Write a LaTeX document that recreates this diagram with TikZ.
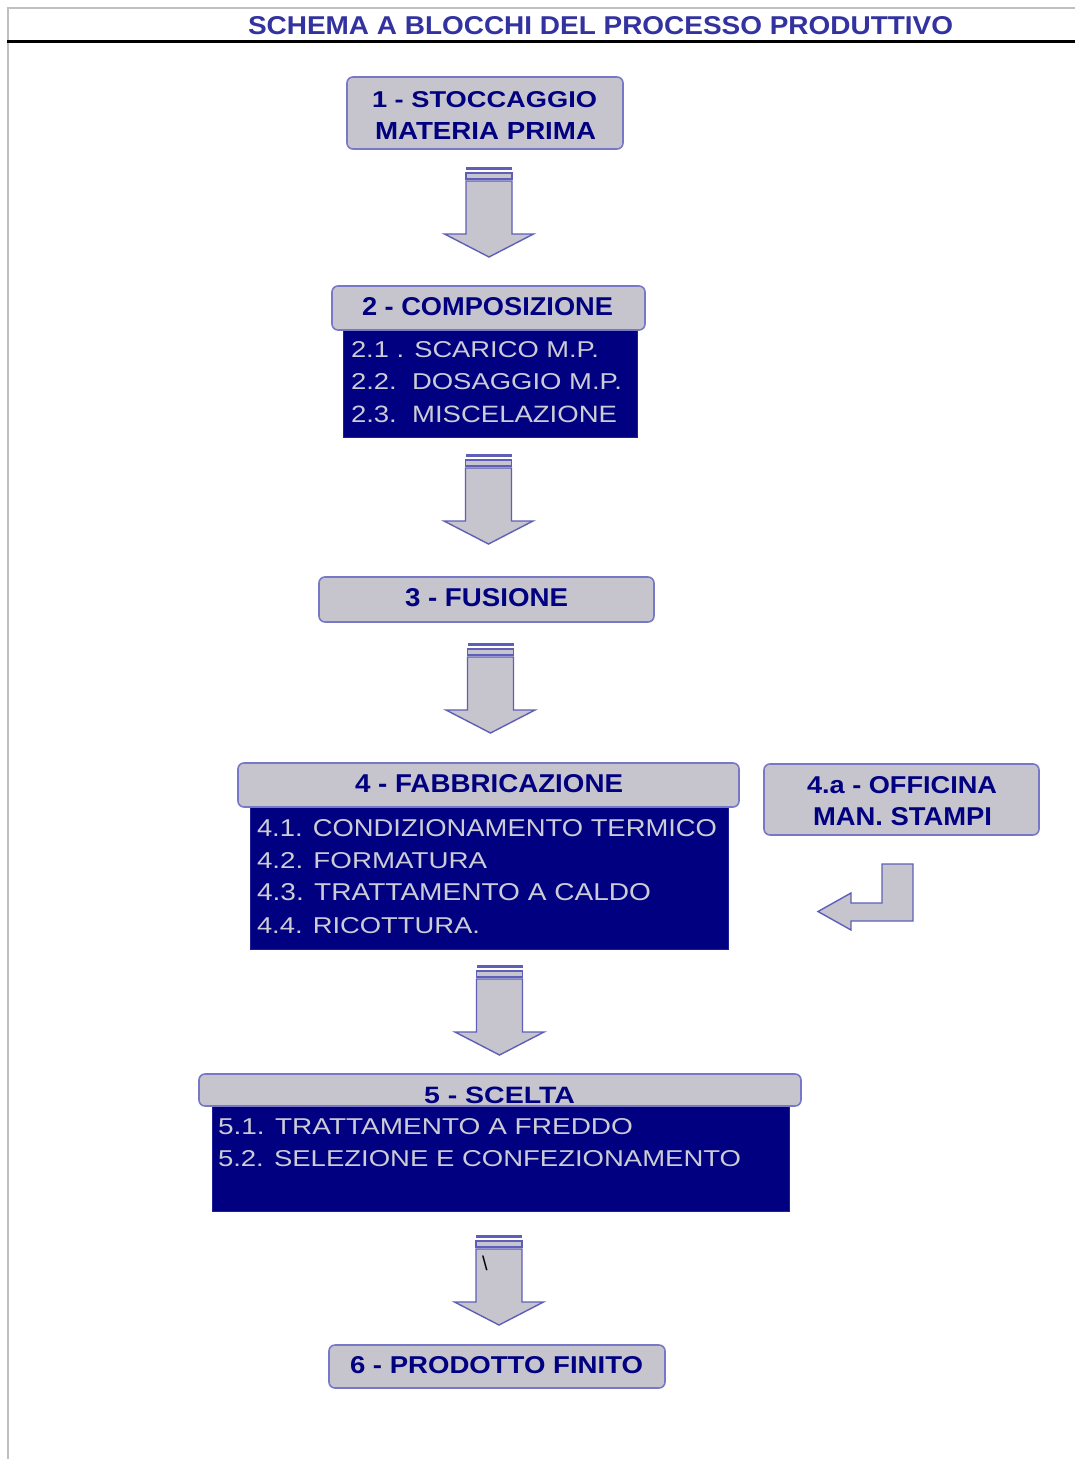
\documentclass[tikz,border=0pt]{standalone}
\usepackage{fontspec}
\usepackage{graphicx}
\setmainfont{Liberation Sans}
\definecolor{boxfill}{RGB}{198,196,204}
\definecolor{boxdraw}{RGB}{120,120,200}
\definecolor{arrdraw}{RGB}{95,95,185}
\definecolor{navy}{RGB}{0,0,128}
\definecolor{lighttext}{RGB}{204,204,212}
\definecolor{titleblue}{RGB}{50,50,160}
\definecolor{framegray}{RGB}{192,192,192}
\definecolor{darkedge}{RGB}{30,30,150}
\newcommand{\putline}[7]{\node[#6,anchor=base west,inner sep=0pt,outer sep=0pt] (#1) at (#2,#3) {\resizebox{#4pt}{#5pt}{#7}};}
\tikzset{
  box/.style={draw=boxdraw, fill=boxfill, line width=1.6pt, rounded corners=6pt, inner sep=0pt},
  darkbox/.style={draw=darkedge, fill=navy, line width=0.8pt, inner sep=0pt},
  head/.style={text=navy, font=\bfseries},
  body/.style={text=lighttext},
  arr/.style={draw=arrdraw, fill=boxfill, line width=1.4pt, line join=miter},
  blockarrow/.pic={
    \fill[arrdraw] (-23,0) rectangle (23,2.5);
    \draw[arr] (-23,6) rectangle (23,12);
    \draw[arr] (-23,14) -- (23,14) -- (23,67) -- (44.5,67) -- (0,90) -- (-44.5,67) -- (-23,67) -- cycle;
  }
}
\begin{document}
\begin{tikzpicture}[x=1pt,y=-1pt]
\useasboundingbox (0,0) rectangle (1075,1459);
\fill[white] (0,0) rectangle (1075,1459);
% frame
\draw[framegray, line width=1.5pt] (1075,8) -- (8,8) -- (8,1459);
\draw[black, line width=3pt] (7,41.5) -- (1075,41.5);
% title
\putline{title}{248}{34}{705}{18}{text=titleblue, font=\bfseries}{SCHEMA A BLOCCHI DEL PROCESSO PRODUTTIVO}
% box 1
\node[box, minimum width=276pt, minimum height=72pt] (b1) at (485,113) {};
\putline{b1a}{372}{107}{225}{16}{head}{1 - STOCCAGGIO}
\putline{b1b}{375}{139}{221}{17}{head}{MATERIA PRIMA}
% box 2
\node[darkbox, minimum width=294pt, minimum height=107pt] (b2d) at (490,383.5) {};
\node[box, minimum width=313pt, minimum height=44pt] (b2h) at (488.5,308) {};
\putline{b2t}{362}{315}{251}{18}{head}{2 - COMPOSIZIONE}
\putline{b2a}{351}{357.5}{248}{16}{body}{2.1\ . SCARICO M.P.}
\putline{b2b}{351}{389.5}{271}{16}{body}{2.2.\ \ DOSAGGIO M.P.}
\putline{b2c}{351}{422}{266}{16.5}{body}{2.3.\ \ MISCELAZIONE}
% box 3
\node[box, minimum width=335pt, minimum height=45pt] (b3) at (486.5,599.5) {};
\putline{b3t}{405}{606}{163}{18}{head}{3 - FUSIONE}
% box 4
\node[darkbox, minimum width=478pt, minimum height=142pt] (b4d) at (489,878) {};
\node[box, minimum width=501pt, minimum height=44pt] (b4h) at (488.5,785) {};
\putline{b4t}{355}{792}{268}{18}{head}{4 - FABBRICAZIONE}
\putline{b4a}{257}{836}{460}{17}{body}{4.1. CONDIZIONAMENTO TERMICO}
\putline{b4b}{257}{868}{230}{16}{body}{4.2. FORMATURA}
\putline{b4c}{257}{900}{394}{17}{body}{4.3. TRATTAMENTO A CALDO}
\putline{b4e}{257}{933}{223}{16}{body}{4.4. RICOTTURA.}
% box 4a
\node[box, minimum width=275pt, minimum height=71pt] (b4x) at (901.5,799.5) {};
\putline{b4xa}{807}{793}{190}{17}{head}{4.a - OFFICINA}
\putline{b4xb}{813}{825}{179}{18}{head}{MAN. STAMPI}
% L arrow
\draw[arr] (882,864) -- (913,864) -- (913,921) -- (851,921) -- (851,930) -- (818,911.5) -- (851,893) -- (851,903) -- (882,903) -- cycle;
% box 5
\node[darkbox, minimum width=577pt, minimum height=105pt] (b5d) at (500.5,1158.5) {};
\node[box, minimum width=602pt, minimum height=32pt] (b5h) at (500,1090) {};
\putline{b5t}{424}{1103}{151}{16.5}{head}{5 - SCELTA}
\putline{b5a}{218}{1134}{415}{16}{body}{5.1. TRATTAMENTO A FREDDO}
\putline{b5b}{218}{1166}{523}{16}{body}{5.2. SELEZIONE E CONFEZIONAMENTO}
% box 6
\node[box, minimum width=336pt, minimum height=43pt] (b6) at (497,1366.5) {};
\putline{b6t}{350}{1373}{293}{17}{head}{6 - PRODOTTO FINITO}
% block arrows
\pic at (489,167) {blockarrow};
\pic at (488.5,454) {blockarrow};
\pic at (490.5,643) {blockarrow};
\pic at (499.5,965) {blockarrow};
\pic at (499,1235) {blockarrow};
\node[inner sep=0pt, text=black] (bs) at (485,1263) {\fontsize{20}{20}\selectfont\textbackslash};
\end{tikzpicture}
\end{document}
